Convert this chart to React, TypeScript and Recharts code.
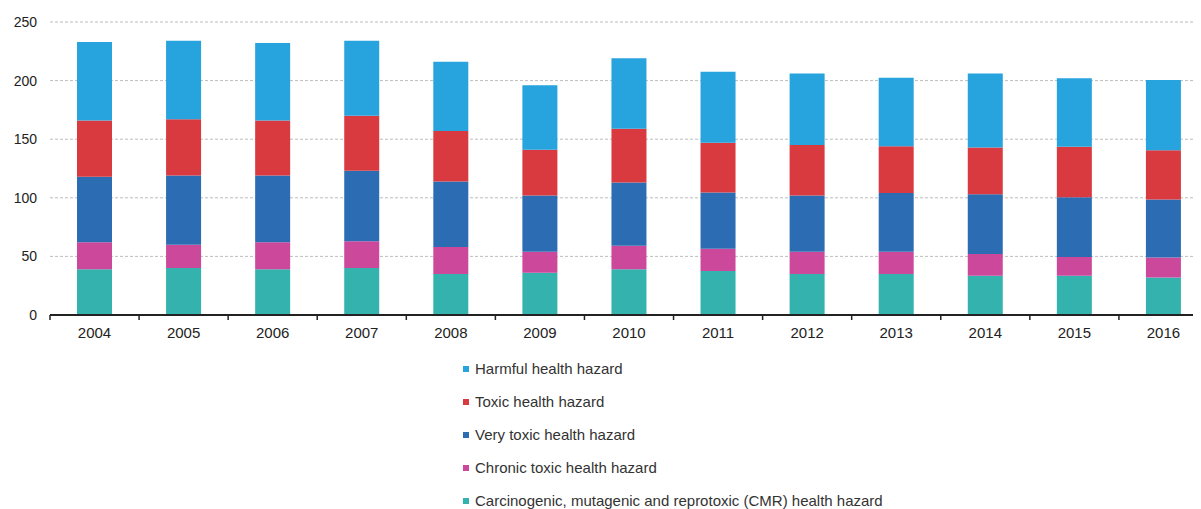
import React from 'react';
import { BarChart, Bar, XAxis, YAxis, CartesianGrid, Legend } from 'recharts';

const years = ['2004', '2005', '2006', '2007', '2008', '2009', '2010', '2011', '2012', '2013', '2014', '2015', '2016'];
const cmr = [39, 40, 39, 40, 35, 36, 39, 37.5, 35, 35, 33.5, 33.5, 32];
const chronic = [23, 20, 23, 23, 23, 18, 20, 19, 19, 19, 18.5, 16, 17];
const veryToxic = [56, 59, 57, 60, 56, 48, 54, 48, 48, 50, 51, 51, 49.5];
const toxic = [48, 48, 47, 47, 43, 39, 46, 42.5, 43, 40, 40, 43, 42];
const harmful = [67, 67, 66, 64, 59, 55, 60, 60.5, 61, 58.5, 63, 58.5, 60];
const yTicks = [0, 50, 100, 150, 200, 250];

const seriesNames = [
  'Carcinogenic, mutagenic and reprotoxic (CMR) health hazard',
  'Chronic toxic health hazard',
  'Very toxic health hazard',
  'Toxic health hazard',
  'Harmful health hazard',
];
const seriesKeys = ['cmr', 'chronic', 'veryToxic', 'toxic', 'harmful'];
const seriesColors = ['#34b2ad', '#cb489b', '#2c6cb2', '#d93a40', '#27a3de'];

const data = years.map((y, i) => ({
  year: y,
  cmr: cmr[i],
  chronic: chronic[i],
  veryToxic: veryToxic[i],
  toxic: toxic[i],
  harmful: harmful[i],
}));

const FONT = '"Liberation Sans", Arial, sans-serif';
const CHART_W = 1200;
const CHART_H = 501;
const MARGIN = { top: 14, right: 0, bottom: 164, left: 0 };
const Y_W = 42;
const TICK_MARGIN = 12;
const BAND = (CHART_W - MARGIN.left - MARGIN.right - Y_W) / years.length;

const XTick = (props: any) => {
  const { x, y, payload, index } = props;
  const axisY = y - TICK_MARGIN;
  const half = BAND / 2;
  return (
    <g>
      <line x1={x - half} x2={x - half} y1={axisY} y2={axisY + 5} stroke="#222" strokeWidth={1.5} />
      {index === years.length - 1 && (
        <line x1={x + half} x2={x + half} y1={axisY} y2={axisY + 5} stroke="#222" strokeWidth={1.5} />
      )}
      <text x={x} y={y} dy="0.71em" textAnchor="middle" fill="#222" fontSize={15} fontFamily={FONT}>
        {payload.value}
      </text>
    </g>
  );
};

const LegendContent = (props: any) => {
  const payload = (props.payload || []).slice();
  payload.sort(
    (a: any, b: any) => seriesNames.indexOf(b.value) - seriesNames.indexOf(a.value)
  );
  return (
    <div style={{ fontFamily: FONT, fontSize: 15, color: '#333' }}>
      {payload.map((p: any) => (
        <div key={p.value} style={{ height: 33.1, display: 'flex', alignItems: 'center', whiteSpace: 'nowrap' }}>
          <span style={{ display: 'inline-block', width: 6, height: 6, background: p.color, marginRight: 6 }} />
          <span>{p.value}</span>
        </div>
      ))}
    </div>
  );
};

export default function App() {
  return (
    <div style={{ width: 1193, height: 501, overflow: 'hidden', background: '#fff' }}>
      <BarChart width={CHART_W} height={CHART_H} data={data} margin={MARGIN} barSize={35}>
        <CartesianGrid vertical={false} stroke="#bdbdbd" strokeDasharray="3 2" />
        <XAxis
          dataKey="year"
          axisLine={{ stroke: '#222', strokeWidth: 2 }}
          tickLine={false}
          tickSize={0}
          tickMargin={TICK_MARGIN}
          height={30}
          interval={0}
          tick={<XTick />}
        />
        <YAxis
          width={Y_W}
          domain={[0, 250]}
          ticks={yTicks}
          axisLine={false}
          tickLine={false}
          tickSize={0}
          tickMargin={13}
          tick={{ fill: '#222', fontSize: 14, fontFamily: FONT }}
        />
        {seriesKeys.map((k, i) => (
          <Bar key={k} dataKey={k} name={seriesNames[i]} stackId="a" fill={seriesColors[i]} isAnimationActive={false} />
        ))}
        <Legend
          layout="vertical"
          align="center"
          verticalAlign="middle"
          content={<LegendContent />}
          wrapperStyle={{ top: 344, left: 455, width: 'auto' }}
        />
      </BarChart>
    </div>
  );
}
